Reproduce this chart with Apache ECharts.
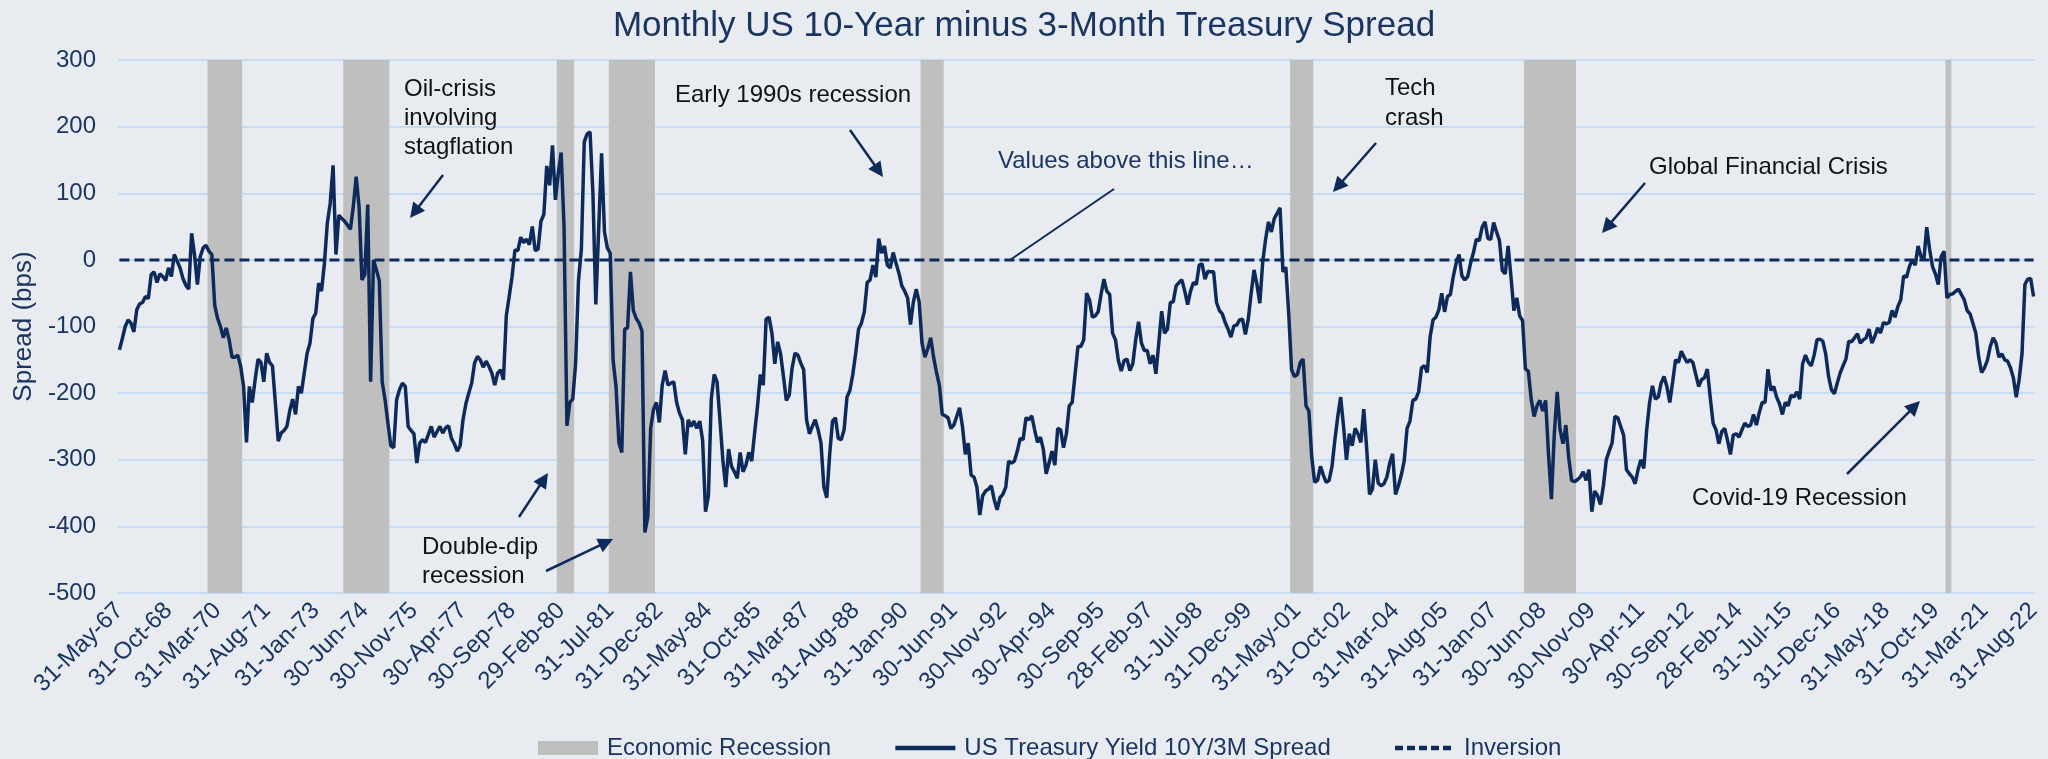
<!DOCTYPE html>
<html>
<head>
<meta charset="utf-8">
<script src="https://cdn.jsdelivr.net/npm/echarts@6/dist/echarts.min.js"></script>
<style>
html,body{margin:0;padding:0;background:#E8ECF0;}
#chart{width:2048px;height:759px;}
</style>
</head>
<body>
<div id="chart"></div>
<script>
// ---------------- DATA ----------------
const firstMonth = { year: 1967, month: 5 };   // 31-May-67
const monthCount = 664;                         // through 31-Aug-22
const monthNames = ['Jan','Feb','Mar','Apr','May','Jun','Jul','Aug','Sep','Oct','Nov','Dec'];

// Spread in bps, one value per month-end
const spreadBps = [
-135,-118,-100,-90,-95,-108,-75,-66,-64,-55,
-58,-22,-18,-34,-21,-25,-31,-12,-25,8,
-2,-12,-28,-38,-44,40,8,-37,5,18,
22,13,8,-68,-88,-100,-117,-102,-120,-146,
-146,-143,-160,-190,-274,-190,-214,-180,-149,-154,
-183,-140,-154,-159,-214,-272,-260,-256,-250,-226,
-209,-232,-190,-200,-170,-140,-125,-88,-80,-35,
-47,-5,55,85,142,8,67,62,58,52,
46,80,125,80,-30,-22,83,-183,0,-15,
-31,-183,-210,-245,-279,-282,-210,-195,-185,-190,
-250,-256,-261,-305,-275,-270,-274,-262,-250,-266,
-258,-250,-260,-252,-249,-268,-276,-287,-279,-240,
-216,-200,-185,-155,-145,-150,-161,-152,-160,-170,
-188,-170,-165,-180,-84,-55,-25,15,14,34,
26,31,23,50,14,16,58,68,141,112,
172,90,130,161,50,-249,-214,-209,-156,-31,
16,177,189,192,100,-67,47,160,42,18,
10,-151,-190,-274,-289,-104,-102,-18,-76,-88,
-95,-107,-409,-386,-253,-224,-214,-244,-188,-166,
-188,-185,-183,-214,-230,-240,-292,-240,-250,-242,
-253,-242,-271,-378,-354,-209,-172,-183,-240,-300,
-341,-284,-310,-318,-328,-289,-318,-308,-289,-302,
-260,-220,-172,-188,-89,-86,-110,-156,-123,-141,
-175,-211,-203,-162,-140,-143,-155,-165,-240,-261,
-250,-240,-255,-275,-341,-357,-292,-242,-237,-268,
-270,-255,-206,-196,-172,-141,-104,-95,-78,-34,
-30,-8,-26,32,10,21,-8,-12,11,-5,
-20,-39,-47,-57,-97,-63,-44,-63,-125,-146,
-133,-117,-146,-169,-188,-232,-234,-237,-253,-248,
-235,-222,-250,-292,-275,-323,-326,-341,-383,-354,
-347,-344,-339,-360,-375,-357,-352,-341,-302,-305,
-302,-287,-268,-270,-237,-240,-234,-255,-274,-266,
-284,-321,-305,-287,-308,-253,-255,-282,-261,-219,
-214,-172,-130,-130,-120,-50,-60,-86,-84,-78,
-52,-29,-47,-52,-110,-120,-151,-167,-151,-149,
-166,-156,-120,-93,-125,-136,-136,-156,-143,-171,
-125,-77,-110,-104,-64,-63,-39,-34,-30,-47,
-67,-47,-34,-37,-8,-6,-29,-17,-18,-18,
-64,-76,-81,-94,-104,-116,-99,-98,-90,-89,
-112,-89,-50,-15,-37,-65,-3,31,57,42,
62,70,78,-18,-11,-80,-165,-175,-172,-154,
-149,-219,-227,-297,-334,-331,-310,-323,-334,-331,
-310,-270,-235,-206,-250,-300,-261,-279,-253,-261,
-274,-224,-282,-352,-344,-300,-335,-339,-336,-326,
-305,-291,-352,-339,-323,-302,-253,-242,-211,-209,
-198,-162,-159,-169,-115,-90,-86,-75,-50,-78,
-55,-52,-25,-5,8,-24,-30,-25,-5,11,
31,29,49,57,32,31,56,42,29,-16,
-21,21,-26,-76,-57,-84,-91,-164,-167,-209,
-235,-219,-211,-227,-211,-292,-359,-261,-198,-255,
-276,-248,-297,-331,-333,-330,-326,-318,-331,-315,
-378,-347,-354,-367,-339,-300,-287,-275,-235,-237,
-250,-263,-315,-321,-326,-336,-315,-300,-313,-255,
-214,-189,-209,-206,-185,-175,-190,-214,-183,-150,
-154,-137,-146,-154,-150,-154,-172,-190,-180,-177,
-164,-206,-245,-255,-276,-258,-253,-271,-292,-263,
-261,-266,-255,-245,-250,-248,-232,-248,-229,-214,
-214,-164,-196,-190,-206,-216,-232,-214,-219,-203,
-206,-198,-209,-156,-143,-154,-159,-143,-120,-119,
-122,-141,-175,-195,-201,-185,-170,-159,-149,-122,
-123,-117,-111,-125,-120,-117,-104,-125,-115,-102,
-110,-94,-96,-94,-76,-86,-70,-60,-24,-26,
-10,0,-8,21,5,0,49,16,-10,-21,
-37,5,13,-57,-52,-51,-47,-44,-52,-60,
-76,-81,-95,-110,-146,-169,-162,-151,-130,-117,
-125,-146,-141,-150,-152,-162,-177,-206,-180,-141,
-37,-29,-28,-55
];

// Recession periods (first and last flagged month)
const recessionStart = ['1969-12','1973-11','1980-01','1981-07','1990-07','2001-03','2007-12','2020-02'];
const recessionEnd   = ['1970-11','1975-02','1980-06','1982-10','1991-02','2001-10','2009-05','2020-03'];

const inversionLevel = 0;
const yMin = -500, yMax = 300, yStep = 100;
const labelEvery = 17;   // one x label every 17 months

// ---------------- BUILD ----------------
function monthEndLabel(k) {
  const t = (firstMonth.month - 1) + k;
  const y = firstMonth.year + Math.floor(t / 12);
  const m = t % 12;
  const d = new Date(Date.UTC(y, m + 1, 0)).getUTCDate();
  return d + '-' + monthNames[m] + '-' + String(y % 100).padStart(2, '0');
}
const categories = [];
for (let k = 0; k < monthCount; k++) categories.push(monthEndLabel(k));

function monthIndex(s) {
  const [y, m] = s.split('-').map(Number);
  return (y - firstMonth.year) * 12 + (m - firstMonth.month);
}
const recessionSpans = recessionStart.map((s, j) => [monthIndex(s), monthIndex(recessionEnd[j])]);

const navy = '#0E2A5A';
const textNavy = '#1B3563';
const ink = '#111111';
const grey = '#BFBFBF';
const FONT = 'Liberation Sans, Arial, sans-serif';

function arrow(x1, y1, x2, y2, head, w) {
  const els = [];
  let ex = x2, ey = y2;
  if (head) {
    const a = Math.atan2(y2 - y1, x2 - x1), L = 15, W = 7.5;
    const bx = x2 - L * Math.cos(a), by = y2 - L * Math.sin(a);
    const px = -Math.sin(a), py = Math.cos(a);
    ex = bx + Math.cos(a); ey = by + Math.sin(a);
    els.push({ type: 'polygon', z: 100, silent: true,
      shape: { points: [[x2, y2], [bx + W * px, by + W * py], [bx - W * px, by - W * py]] },
      style: { fill: navy } });
  }
  els.unshift({ type: 'line', z: 100, silent: true,
    shape: { x1: x1, y1: y1, x2: ex, y2: ey },
    style: { stroke: navy, lineWidth: w || 2.5 } });
  return els;
}
function label(text, x, yTop, color, lh) {
  return { type: 'text', z: 100, silent: true,
    style: { text: text, x: x, y: yTop, fill: color || ink, font: '24px ' + FONT,
             lineHeight: lh || 29, verticalAlign: 'top', align: 'left' } };
}

const graphics = [].concat(
  [label('Oil-crisis\ninvolving\nstagflation', 404, 75)],
  arrow(443, 175, 410, 218, true),
  [label('Early 1990s recession', 675, 81)],
  arrow(850, 130, 883, 177, true),
  [label('Values above this line\u2026', 998, 147, textNavy)],
  arrow(1114, 189, 1010, 260, false, 2),
  [label('Tech\ncrash', 1385, 73, ink, 30)],
  arrow(1376, 143, 1333, 192, true),
  [label('Global Financial Crisis', 1649, 153)],
  arrow(1645, 183, 1602, 233, true),
  [label('Covid-19 Recession', 1692, 484)],
  arrow(1847, 474, 1920, 401, true),
  [label('Double-dip\nrecession', 422, 533)],
  arrow(519, 517, 548, 473, true),
  arrow(546, 571, 613, 539, true)
);

const chart = echarts.init(document.getElementById('chart'), null, { renderer: 'canvas' });
chart.setOption({
  backgroundColor: '#E8ECF0',
  animation: false,
  textStyle: { fontFamily: FONT },
  title: {
    text: 'Monthly US 10-Year minus 3-Month Treasury Spread',
    left: 'center', top: 4,
    textStyle: { fontSize: 35, fontWeight: 'normal', color: textNavy, fontFamily: FONT }
  },
  grid: { left: 118, right: 13, top: 60, bottom: 166, containLabel: false },
  legend: {
    left: 533, top: 731,
    itemWidth: 60, itemHeight: 14, itemGap: 62,
    textStyle: { fontSize: 24, color: textNavy, fontFamily: FONT, padding: [0, 0, 0, 4] },
    data: [
      { name: 'Economic Recession', icon: 'rect', itemStyle: { color: grey } },
      { name: 'US Treasury Yield 10Y/3M Spread', itemStyle: { opacity: 0 },
        lineStyle: { width: 4.5, color: navy } },
      { name: 'Inversion', itemStyle: { opacity: 0 },
        lineStyle: { width: 4.5, color: navy, type: [8, 4] } }
    ]
  },
  xAxis: {
    type: 'category',
    data: categories,
    boundaryGap: true,
    axisLine: { show: false },
    axisTick: { show: false },
    axisLabel: {
      interval: labelEvery - 1, rotate: 45, margin: 14,
      fontSize: 24, color: textNavy, fontFamily: FONT
    },
    splitLine: { show: false }
  },
  yAxis: {
    type: 'value', min: yMin, max: yMax, interval: yStep,
    name: 'Spread (bps)', nameLocation: 'middle', nameRotate: 90, nameGap: 76,
    nameTextStyle: { fontSize: 26, color: textNavy, fontFamily: FONT },
    axisLine: { show: false }, axisTick: { show: false },
    axisLabel: { fontSize: 24, color: textNavy, margin: 22, fontFamily: FONT },
    splitLine: { lineStyle: { color: '#C5DCF4', width: 2 } }
  },
  series: [
    {
      name: 'Economic Recession', type: 'custom',
      data: recessionSpans,
      encode: { x: [0, 1] },
      itemStyle: { color: grey },
      z: 1, silent: true,
      renderItem: function (params, api) {
        const s = api.value(0), e = api.value(1);
        const pTop = api.coord([s, yMax]);
        const pBot = api.coord([e, yMin]);
        const w = api.size([1, 0])[0];
        return {
          type: 'rect',
          shape: { x: pTop[0] - w / 2, y: pTop[1], width: pBot[0] - pTop[0] + w, height: pBot[1] - pTop[1] },
          style: { fill: grey }
        };
      }
    },
    {
      name: 'US Treasury Yield 10Y/3M Spread', type: 'line',
      data: spreadBps, showSymbol: false, symbol: 'none',
      lineStyle: { color: navy, width: 3.5 }, itemStyle: { color: navy }, z: 5
    },
    {
      name: 'Inversion', type: 'line',
      data: [[categories[0], inversionLevel], [categories[monthCount - 1], inversionLevel]],
      showSymbol: false, symbol: 'none',
      lineStyle: { color: navy, width: 3, type: [10, 5] }, itemStyle: { color: navy }, z: 4
    }
  ],
  graphic: graphics
});
</script>
</body>
</html>
